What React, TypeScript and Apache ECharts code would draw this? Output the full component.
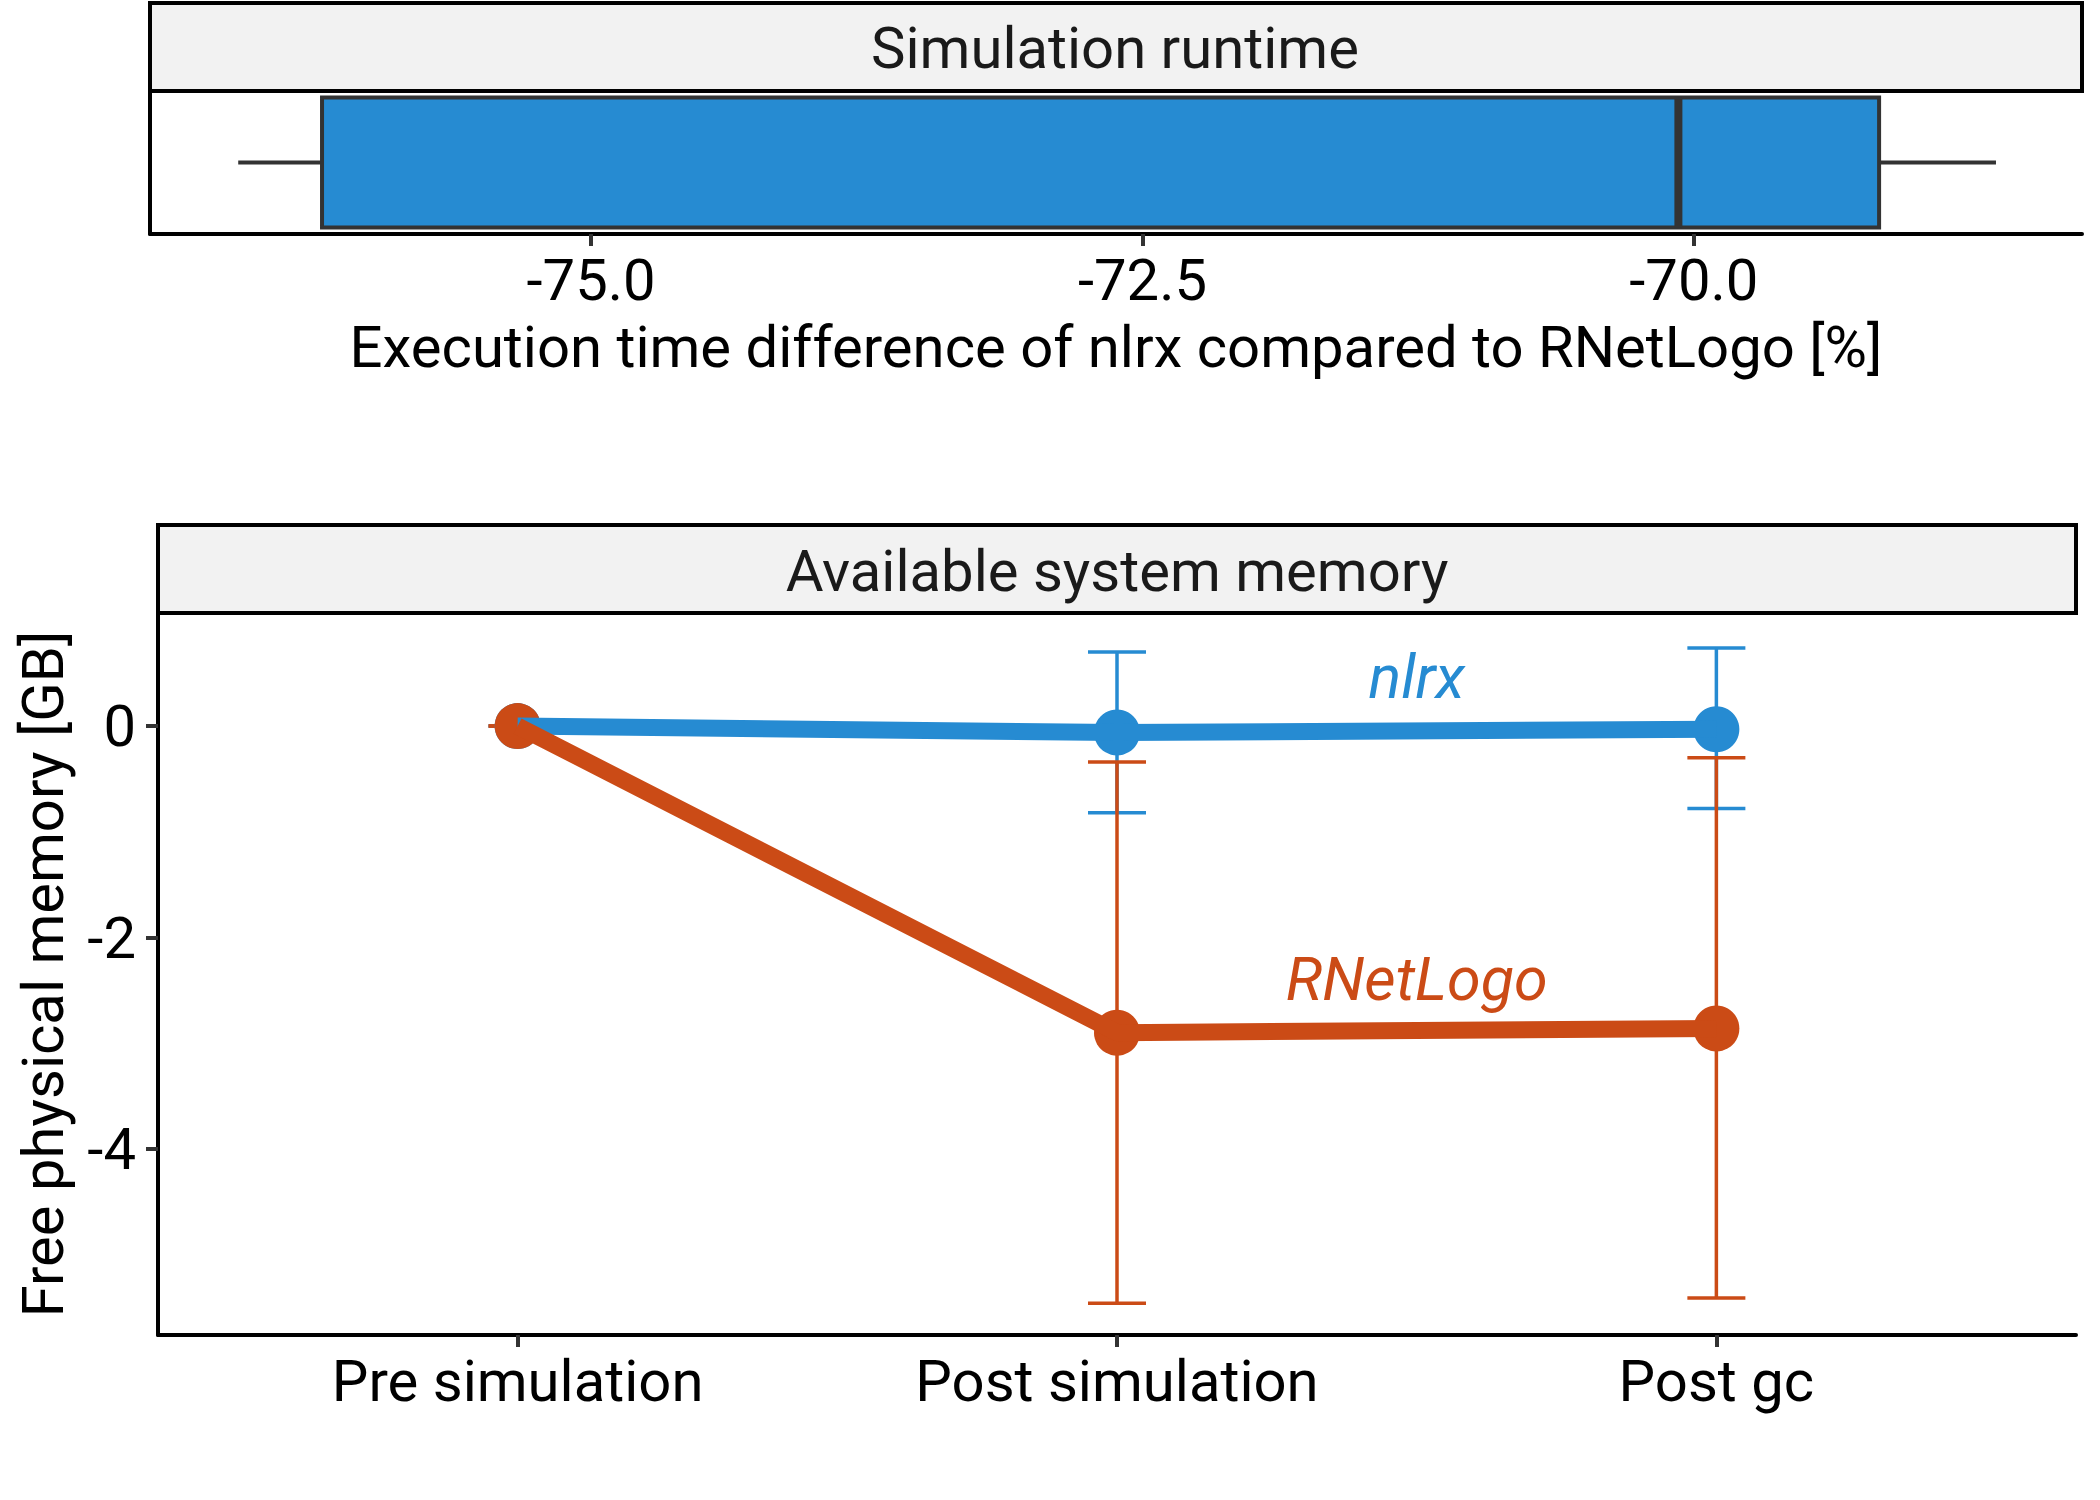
import React, { useEffect, useRef } from 'react';
import * as echarts from 'echarts';

// Top panel: execution time difference (%) box statistics
const runtimeStats = [-76.6, -76.22, -70.07, -69.16, -68.63]; // min, Q1, median, Q3, max
const runtimeTicks = [-75, -72.5, -70];

// Bottom panel: available system memory
const stages = ['Pre simulation', 'Post simulation', 'Post gc'];
const nlrxMean = [0, -0.06, -0.03];
const nlrxLow = [0, -0.82, -0.78];
const nlrxHigh = [0, 0.7, 0.74];
const rnlMean = [0, -2.9, -2.86];
const rnlLow = [0, -5.46, -5.41];
const rnlHigh = [0, -0.34, -0.3];
const memTicks = [0, -2, -4];
const seriesLabels = [
  { name: 'nlrx', x: 2.5, y: 0.46 },
  { name: 'RNetLogo', x: 2.5, y: -2.39 },
];

const BLUE = '#268BD2';
const ORANGE = '#CB4B16';
const FONT = 'Roboto';
const FS = 58;

function errorBarSeries(color: string, low: number[], high: number[]) {
  return {
    type: 'custom',
    xAxisIndex: 1,
    yAxisIndex: 1,
    encode: { x: 0, y: [1, 2] },
    data: stages.map((_, i) => [i + 1, low[i], high[i]]),
    renderItem: (params: any, api: any) => {
      const x = api.value(0);
      const lo = api.coord([x, api.value(1)]);
      const hi = api.coord([x, api.value(2)]);
      const half = 29;
      const st = { stroke: color, lineWidth: 3.5 };
      return {
        type: 'group',
        children: [
          { type: 'line', shape: { x1: lo[0], y1: lo[1], x2: hi[0], y2: hi[1] }, style: st },
          { type: 'line', shape: { x1: lo[0] - half, y1: lo[1], x2: lo[0] + half, y2: lo[1] }, style: st },
          { type: 'line', shape: { x1: hi[0] - half, y1: hi[1], x2: hi[0] + half, y2: hi[1] }, style: st },
        ],
      };
    },
    z: 2,
  };
}

export default function App() {
  const ref = useRef<HTMLDivElement>(null);
  useEffect(() => {
    document.body.style.margin = '0';
    const chart = echarts.init(ref.current!, null, { renderer: 'svg' });
    const axisLineStyle = { color: '#000', width: 4 };
    const tickStyle = { color: '#333', width: 4 };
    chart.setOption({
      animation: false,
      backgroundColor: '#fff',
      textStyle: { fontFamily: FONT },
      grid: [
        { left: 150, width: 1932, top: 91, height: 143 },
        { left: 158, width: 1918, top: 613, height: 722 },
      ],
      xAxis: [
        {
          gridIndex: 0,
          type: 'value',
          min: -77.0,
          max: -68.24,
          splitLine: { show: false },
          axisLine: { show: true, onZero: false, lineStyle: axisLineStyle },
          axisTick: { show: true, customValues: runtimeTicks, length: 12, lineStyle: tickStyle },
          axisLabel: {
            customValues: runtimeTicks,
            formatter: (v: number) => v.toFixed(1),
            fontSize: FS,
            color: '#000',
            fontFamily: FONT,
            margin: 17,
          },
          name: 'Execution time difference of nlrx compared to RNetLogo [%]',
          nameLocation: 'middle',
          nameGap: 84,
          nameTextStyle: { fontSize: FS, color: '#000', fontFamily: FONT },
        },
        {
          gridIndex: 1,
          type: 'value',
          min: 0.4,
          max: 3.6,
          splitLine: { show: false },
          axisLine: { show: true, onZero: false, lineStyle: axisLineStyle },
          axisTick: { show: true, customValues: [1, 2, 3], length: 12, lineStyle: tickStyle },
          axisLabel: {
            customValues: [1, 2, 3],
            formatter: (v: number) => stages[Math.round(v) - 1],
            fontSize: FS,
            color: '#000',
            fontFamily: FONT,
            margin: 17,
          },
        },
      ],
      yAxis: [
        {
          gridIndex: 0,
          type: 'value',
          min: 0,
          max: 1,
          splitLine: { show: false },
          axisLine: { show: true, onZero: false, lineStyle: axisLineStyle },
          axisTick: { show: false },
          axisLabel: { show: false },
        },
        {
          gridIndex: 1,
          type: 'value',
          min: -5.76,
          max: 1.07,
          splitLine: { show: false },
          axisLine: { show: true, onZero: false, lineStyle: axisLineStyle },
          axisTick: { show: true, customValues: memTicks, length: 12, lineStyle: tickStyle },
          axisLabel: {
            customValues: memTicks,
            formatter: (v: number) => String(v),
            fontSize: FS,
            color: '#000',
            fontFamily: FONT,
            margin: 22,
          },
          name: 'Free physical memory [GB]',
          nameLocation: 'middle',
          nameRotate: 90,
          nameGap: 86,
          nameTextStyle: { fontSize: FS, color: '#000', fontFamily: FONT },
        },
      ],
      graphic: [
        {
          type: 'rect',
          shape: { x: 150, y: 3, width: 1932, height: 88 },
          style: { fill: '#F2F2F2', stroke: '#000', lineWidth: 4 },
          z: 10,
        },
        {
          type: 'text',
          x: 1115,
          y: 48,
          style: {
            text: 'Simulation runtime',
            fontSize: FS,
            fontFamily: FONT,
            fill: '#1A1A1A',
            textAlign: 'center',
            textVerticalAlign: 'middle',
          },
          z: 11,
        },
        {
          type: 'rect',
          shape: { x: 158, y: 525, width: 1918, height: 88 },
          style: { fill: '#F2F2F2', stroke: '#000', lineWidth: 4 },
          z: 10,
        },
        {
          type: 'text',
          x: 1117,
          y: 571,
          style: {
            text: 'Available system memory',
            fontSize: FS,
            fontFamily: FONT,
            fill: '#1A1A1A',
            textAlign: 'center',
            textVerticalAlign: 'middle',
          },
          z: 11,
        },
      ],
      series: [
        {
          type: 'custom',
          xAxisIndex: 0,
          yAxisIndex: 0,
          encode: { x: [0, 1, 2, 3, 4], y: 5 },
          data: [[...runtimeStats, 0.5]],
          renderItem: (params: any, api: any) => {
            const mn = api.coord([api.value(0), 0.5]);
            const q1Top = api.coord([api.value(1), 0.955]);
            const q1Bot = api.coord([api.value(1), 0.045]);
            const md = api.coord([api.value(2), 0.5]);
            const q3 = api.coord([api.value(3), 0.5]);
            const mx = api.coord([api.value(4), 0.5]);
            const yTop = q1Top[1];
            const yBot = q1Bot[1];
            const yMid = mn[1];
            const lineSt = { stroke: '#333333', lineWidth: 4 };
            return {
              type: 'group',
              children: [
                { type: 'line', shape: { x1: mn[0], y1: yMid, x2: q1Top[0], y2: yMid }, style: lineSt },
                { type: 'line', shape: { x1: q3[0], y1: yMid, x2: mx[0], y2: yMid }, style: lineSt },
                {
                  type: 'rect',
                  shape: { x: q1Top[0], y: yTop, width: q3[0] - q1Top[0], height: yBot - yTop },
                  style: { fill: BLUE, stroke: '#333333', lineWidth: 4 },
                },
                { type: 'line', shape: { x1: md[0], y1: yTop, x2: md[0], y2: yBot }, style: { stroke: '#333333', lineWidth: 8 } },
              ],
            };
          },
        },
        errorBarSeries(BLUE, nlrxLow, nlrxHigh),
        errorBarSeries(ORANGE, rnlLow, rnlHigh),
        {
          type: 'scatter',
          xAxisIndex: 1,
          yAxisIndex: 1,
          data: stages.map((_, i) => [i + 1, nlrxMean[i]]),
          symbolSize: 46,
          itemStyle: { color: BLUE, opacity: 1 },
          z: 3,
        },
        {
          type: 'scatter',
          xAxisIndex: 1,
          yAxisIndex: 1,
          data: stages.map((_, i) => [i + 1, rnlMean[i]]),
          symbolSize: 46,
          itemStyle: { color: ORANGE, opacity: 1 },
          z: 3,
        },
        {
          type: 'line',
          xAxisIndex: 1,
          yAxisIndex: 1,
          data: stages.map((_, i) => [i + 1, nlrxMean[i]]),
          showSymbol: false,
          lineStyle: { color: BLUE, width: 17 },
          z: 4,
        },
        {
          type: 'line',
          xAxisIndex: 1,
          yAxisIndex: 1,
          data: stages.map((_, i) => [i + 1, rnlMean[i]]),
          showSymbol: false,
          lineStyle: { color: ORANGE, width: 17 },
          z: 4,
        },
        {
          type: 'scatter',
          xAxisIndex: 1,
          yAxisIndex: 1,
          symbolSize: 2,
          itemStyle: { color: 'rgba(0,0,0,0)', opacity: 1 },
          data: seriesLabels.map((d) => ({
            name: d.name,
            value: [d.x, d.y],
            label: { color: d.name === 'nlrx' ? BLUE : ORANGE },
          })),
          label: {
            show: true,
            position: 'inside',
            formatter: '{b}',
            fontSize: 61,
            fontStyle: 'italic',
            fontFamily: FONT,
            opacity: 1,
          },
          z: 5,
        },
      ],
    });
    return () => chart.dispose();
  }, []);
  return <div ref={ref} style={{ width: 2100, height: 1500 }} />;
}
